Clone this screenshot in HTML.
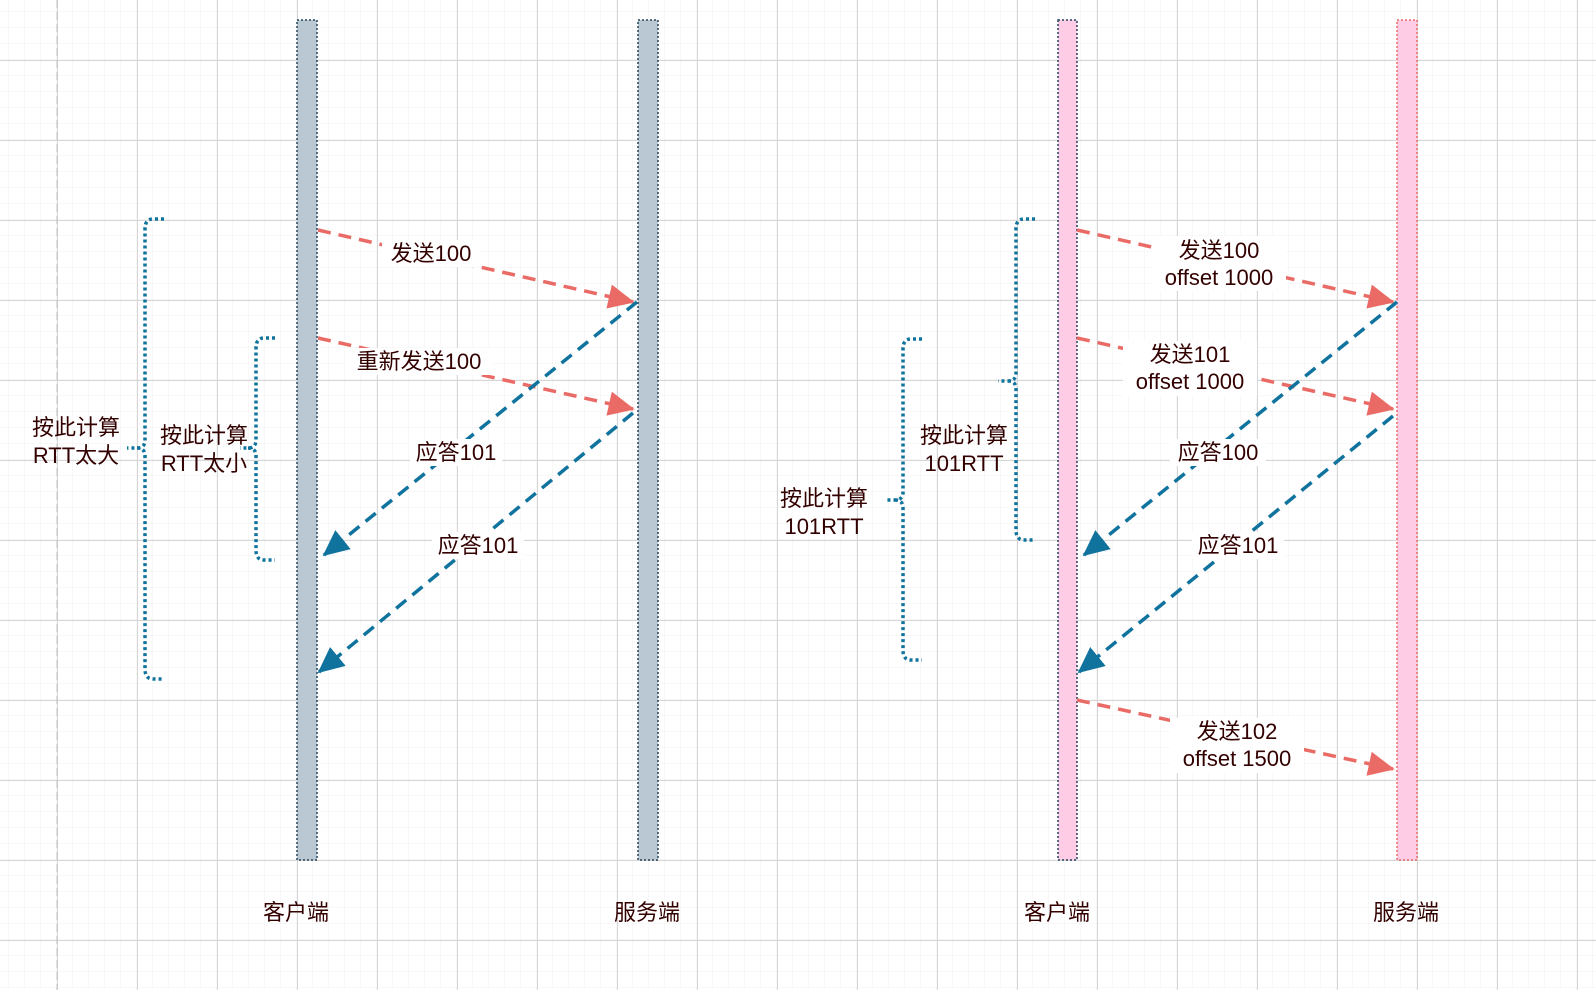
<!DOCTYPE html>
<html><head><meta charset="utf-8"><style>
html,body{margin:0;padding:0;background:#fff}
svg{display:block}
text{font-family:"Liberation Sans","Noto Sans CJK SC",sans-serif;font-size:22px;fill:#330000}
</style></head><body>
<svg width="1596" height="990" viewBox="0 0 1596 990" xmlns="http://www.w3.org/2000/svg">
<defs>
<pattern id="minor" x="9" y="12" width="16" height="16" patternUnits="userSpaceOnUse">
<path d="M16 0V16M0 16H16" stroke="#f0f0f0" stroke-width="1" fill="none"/>
</pattern>
<pattern id="major" x="57" y="60" width="80" height="80" patternUnits="userSpaceOnUse">
<path d="M0.5 0V80M0 0.5H80" stroke="#d6d6d6" stroke-width="1" fill="none"/>
</pattern>
<marker id="ar" markerWidth="8" markerHeight="8" refX="7" refY="4" orient="auto" markerUnits="strokeWidth">
<path d="M0,0.5 L7.5,4 L0,7.5 Z" fill="#ea6b66"/>
</marker>
<marker id="ab" markerWidth="8" markerHeight="8" refX="7" refY="4" orient="auto" markerUnits="strokeWidth">
<path d="M0,0.5 L7.5,4 L0,7.5 Z" fill="#10739e"/>
</marker>
</defs>
<rect width="1596" height="990" fill="url(#minor)"/>
<rect width="1596" height="990" fill="url(#major)"/>
<line x1="57" y1="0" x2="57" y2="990" stroke="#c0c0c0" stroke-dasharray="8 4"/>

<rect x="297" y="20" width="20" height="840" fill="#bac8d3" stroke="#23445d" stroke-width="1.5" stroke-dasharray="2 2"/>
<rect x="638" y="20" width="20" height="840" fill="#bac8d3" stroke="#23445d" stroke-width="1.5" stroke-dasharray="2 2"/>
<rect x="1058" y="20" width="19" height="840" fill="#ffcce6" stroke="#23445d" stroke-width="1.5" stroke-dasharray="2 2"/>
<rect x="1397" y="20" width="20" height="840" fill="#ffcce6" stroke="#ea6b66" stroke-width="1.5" stroke-dasharray="2 2"/>

<g stroke-width="3.5" fill="none" stroke-dasharray="13 8">
<line x1="318" y1="230" x2="633" y2="302" stroke="#ea6b66" marker-end="url(#ar)"/>
<line x1="318" y1="338" x2="633" y2="409" stroke="#ea6b66" marker-end="url(#ar)"/>
<line x1="637" y1="302" x2="324" y2="555" stroke="#10739e" marker-end="url(#ab)"/>
<line x1="633" y1="413" x2="319" y2="672" stroke="#10739e" marker-end="url(#ab)"/>
<line x1="1077" y1="230" x2="1393" y2="302" stroke="#ea6b66" marker-end="url(#ar)"/>
<line x1="1077" y1="338" x2="1393" y2="409" stroke="#ea6b66" marker-end="url(#ar)"/>
<line x1="1397" y1="302" x2="1084" y2="555" stroke="#10739e" marker-end="url(#ab)"/>
<line x1="1393" y1="416" x2="1079" y2="672" stroke="#10739e" marker-end="url(#ab)"/>
<line x1="1077" y1="700" x2="1393" y2="769" stroke="#ea6b66" marker-end="url(#ar)"/>
</g>

<g stroke="#10739e" stroke-width="3.5" fill="none" stroke-dasharray="3 3">
<path d="M164 219 H153 Q145 219 145 229 V440 Q145 448 137 448 H127 M137 448 Q145 448 145 456 V669 Q145 679 153 679 H164"/>
<path d="M275 338 H264 Q256 338 256 348 V440 Q256 448 248 448 H240 M248 448 Q256 448 256 456 V550 Q256 560 264 560 H275"/>
<path d="M1035 219 H1024 Q1016 219 1016 229 V373 Q1016 381 1008 381 H998 M1008 381 Q1016 381 1016 389 V530 Q1016 540 1024 540 H1035"/>
<path d="M922 339 H911 Q903 339 903 349 V492 Q903 500 895 500 H886 M895 500 Q903 500 903 508 V650 Q903 660 911 660 H922"/>
</g>

<g text-anchor="middle">
<rect x="382" y="240" width="98" height="27" fill="#fff"/><text x="431" y="261">发送100</text>
<rect x="346" y="348" width="146" height="27" fill="#fff"/><text x="419" y="369">重新发送100</text>
<rect x="410" y="439" width="92" height="27" fill="#fff"/><text x="456" y="460">应答101</text>
<rect x="432" y="532" width="92" height="27" fill="#fff"/><text x="478" y="553">应答101</text>
<text x="76" y="435">按此计算</text><text x="76" y="463">RTT太大</text>
<text x="204" y="443">按此计算</text><text x="204" y="471">RTT太小</text>

<rect x="1152" y="236" width="134" height="55" fill="#fff"/>
<text x="1219" y="258">发送100</text><text x="1219" y="285">offset 1000</text>
<rect x="1123" y="341" width="134" height="55" fill="#fff"/>
<text x="1190" y="362">发送101</text><text x="1190" y="389">offset 1000</text>
<rect x="1170" y="439" width="96" height="27" fill="#fff"/><text x="1218" y="460">应答100</text>
<rect x="1192" y="532" width="92" height="27" fill="#fff"/><text x="1238" y="553">应答101</text>
<rect x="1170" y="718" width="134" height="55" fill="#fff"/>
<text x="1237" y="739">发送102</text><text x="1237" y="766">offset 1500</text>
<text x="964" y="443">按此计算</text><text x="964" y="471">101RTT</text>
<text x="824" y="506">按此计算</text><text x="824" y="534">101RTT</text>

<text x="296" y="920">客户端</text>
<text x="647" y="920">服务端</text>
<text x="1057" y="920">客户端</text>
<text x="1406" y="920">服务端</text>
</g>
</svg>
</body></html>
